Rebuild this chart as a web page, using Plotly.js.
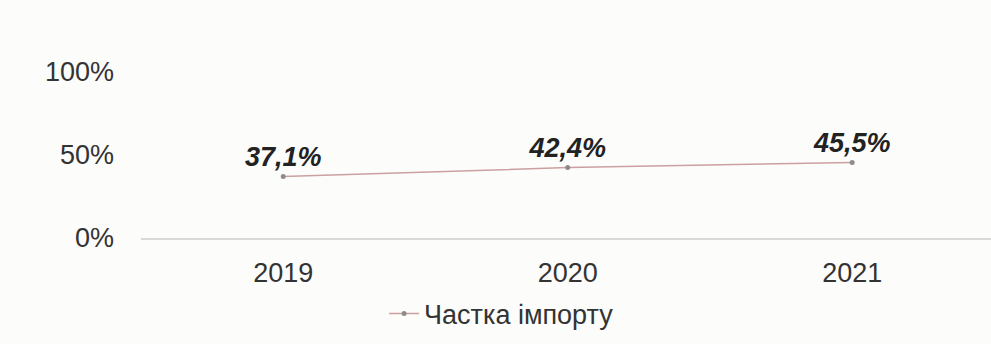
<!DOCTYPE html>
<html>
<head>
<meta charset="utf-8">
<script src="https://cdn.plot.ly/plotly-3.0.1.min.js"></script>
<style>html,body{margin:0;padding:0;background:#fcfcfa;}#chart{width:991px;height:344px;}</style>
</head>
<body>
<div id="chart"></div>
<script>
const years = ['2019', '2020', '2021'];
const importShare = [37.1, 42.4, 45.5];
const seriesName = 'Частка імпорту';
const yTickVals = [0, 50, 100];
const yTickText = ['0%', '50%', '100%'];

const fmt = v => v.toFixed(1).replace('.', ',') + '%';
const FONT = 'Liberation Sans, Arial, sans-serif';

const trace = {
  x: years,
  y: importShare,
  type: 'scatter',
  mode: 'lines+markers+text',
  name: seriesName,
  text: importShare.map(v => '<b><i>' + fmt(v) + '</i></b>'),
  textposition: 'top center',
  textfont: {family: FONT, size: 27, color: '#222222'},
  cliponaxis: false,
  line: {color: '#cc9fa1', width: 1.5},
  marker: {color: '#8c8c8c', size: 5},
  hoverinfo: 'skip'
};

const layout = {
  width: 991, height: 344,
  paper_bgcolor: '#fcfcfa', plot_bgcolor: '#fcfcfa',
  margin: {l: 141, r: 0, t: 72, b: 106},
  showlegend: true,
  legend: {
    orientation: 'h', x: 0.286, xanchor: 'left', y: -0.31, yanchor: 'top',
    font: {family: FONT, size: 27, color: '#333333'},
    bgcolor: 'rgba(0,0,0,0)', itemwidth: 30
  },
  xaxis: {
    type: 'category', range: [-0.5, 2.488], autorange: false,
    showgrid: false, zeroline: false,
    showline: true, linecolor: '#d9d9d9', linewidth: 1.5,
    ticks: '', tickfont: {family: FONT, size: 27, color: '#333333'},
    ticklabelstandoff: 10
  },
  yaxis: {
    range: [0, 100], autorange: false,
    tickvals: yTickVals, ticktext: yTickText,
    showgrid: false, zeroline: false, showline: false, ticks: '',
    tickfont: {family: FONT, size: 27, color: '#333333'},
    ticklabelstandoff: 26
  }
};

Plotly.newPlot('chart', [trace], layout, {displayModeBar: false, staticPlot: true});
</script>
</body>
</html>
